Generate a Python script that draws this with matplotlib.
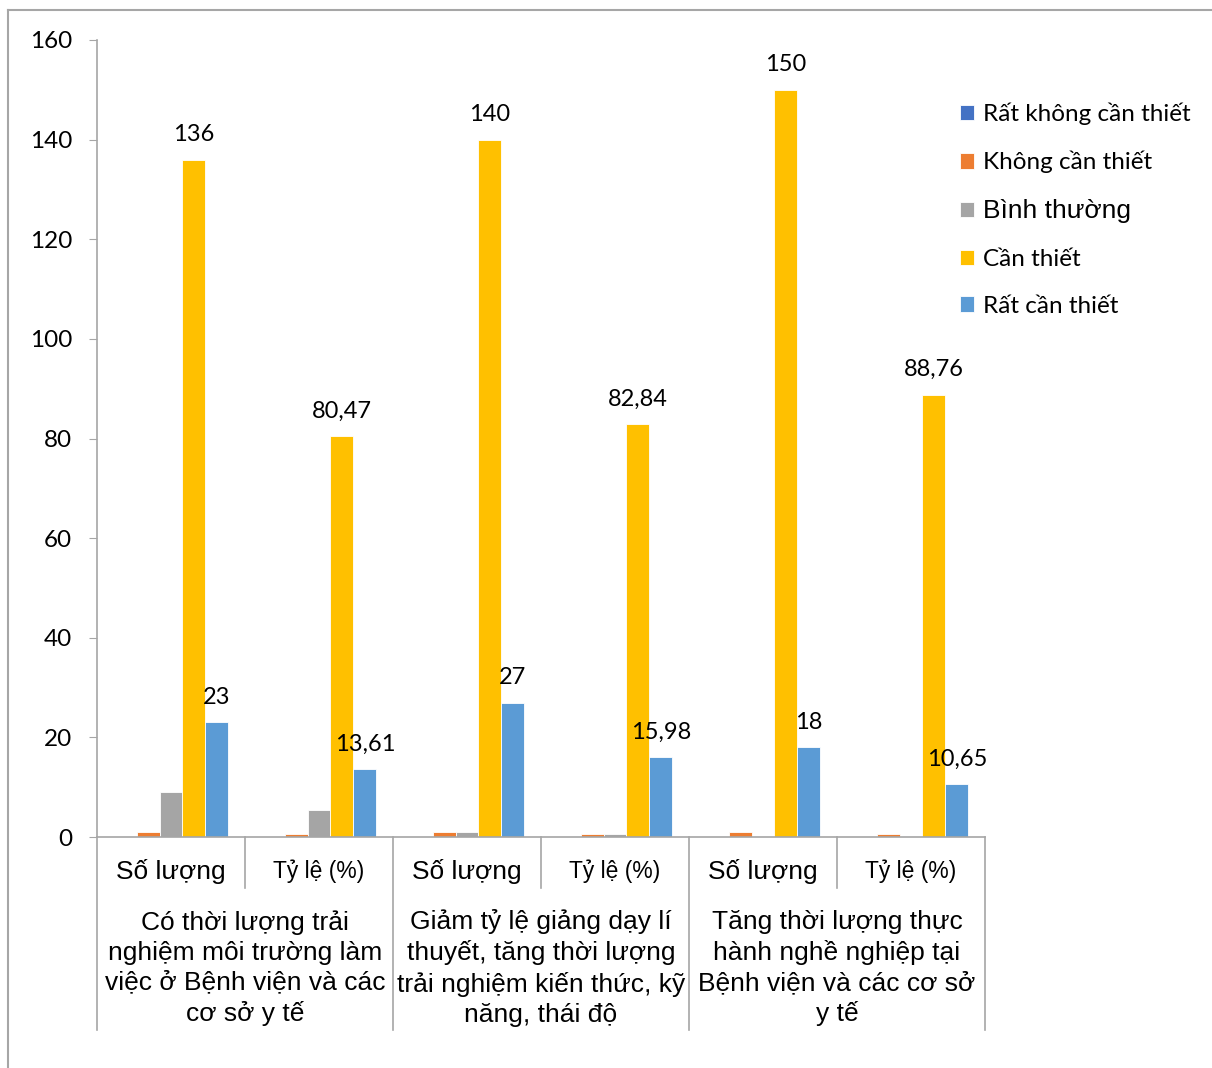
import matplotlib
matplotlib.use('Agg')
import matplotlib.pyplot as plt
from matplotlib.lines import Line2D
import numpy as np

# sub categories (x axis level 1) and groups (level 2)
sub_labels = ['Số lượng', 'Tỷ lệ (%)'] * 3
group_labels = [
    'Có thời lượng trải\nnghiệm môi trường làm\nviệc ở Bệnh viện và các\ncơ sở y tế',
    'Giảm tỷ lệ giảng dạy lí\nthuyết, tăng thời lượng\ntrải nghiệm kiến thức, kỹ\nnăng, thái độ',
    'Tăng thời lượng thực\nhành nghề nghiệp tại\nBệnh viện và các cơ sở\ny tế',
]

series_names = ['Rất không cần thiết', 'Không cần thiết', 'Bình thường',
                'Cần thiết', 'Rất cần thiết']
rat_khong = [0, 0, 0, 0, 0, 0]
khong = [1, 0.59, 1, 0.59, 1, 0.59]
binh_thuong = [9, 5.33, 1, 0.59, 0, 0]
can_thiet = [136, 80.47, 140, 82.84, 150, 88.76]
rat_can = [23, 13.61, 27, 15.98, 18, 10.65]
series = [rat_khong, khong, binh_thuong, can_thiet, rat_can]
colors = ['#4472C4', '#ED7D31', '#A5A5A5', '#FFC000', '#5B9BD5']
labelled = [False, False, False, True, True]

W, H = 1212, 1068
fig = plt.figure(figsize=(W / 100, H / 100), dpi=100)
ax = fig.add_axes([97 / W, (H - 837) / H, (985 - 97) / W, (837 - 40) / H])

num_font = 'Lato'
cat_font = 'Liberation Sans'
grid_col = '#A6A6A6'

x = np.arange(len(sub_labels))
bw = 0.155
for j, (name, vals, col) in enumerate(zip(series_names, series, colors)):
    pos = x + (j - 2) * bw
    bars = ax.bar(pos, vals, bw, color=col, label=name, edgecolor='white',
                  linewidth=0.6)
    if labelled[j]:
        for b, v in zip(bars, vals):
            ax.annotate(f'{v:g}'.replace('.', ','),
                        (b.get_x() + b.get_width() / 2, v),
                        xytext=(0, 10.5), textcoords='offset points',
                        ha='center', va='bottom', fontsize=17,
                        family=num_font, color='black')

ax.set_xlim(-0.5, len(sub_labels) - 0.5)
ax.set_ylim(0, 160)
ax.set_yticks(range(0, 161, 20))
ax.tick_params(axis='y', direction='out', length=6, color=grid_col,
               labelsize=17.5, pad=12)
for lab in ax.get_yticklabels():
    lab.set_family(num_font)
ax.set_xticks([])
for s in ['top', 'right']:
    ax.spines[s].set_visible(False)
for s in ['left', 'bottom']:
    ax.spines[s].set_color(grid_col)
    ax.spines[s].set_linewidth(1.2)

# multi-level category axis
def fy(py):
    return (H - py) / H

def ax_y(py):
    return ax.transAxes.inverted().transform(
        fig.transFigure.transform((0, fy(py))))[1]

trans = ax.get_xaxis_transform()
for k in range(len(sub_labels) + 1):
    xb = k - 0.5
    bottom_px = 1030 if k % 2 == 0 else 888
    ax.plot([xb, xb], [0, ax_y(bottom_px)], transform=trans, color=grid_col,
            lw=1.2, clip_on=False)

for xi, lab in zip(x, sub_labels):
    ax.text(xi, ax_y(871), lab, transform=trans, ha='center', va='center',
            fontsize=19 if xi % 2 == 0 else 16.5, family=cat_font)
for g, lab in enumerate(group_labels):
    ax.text(2 * g + 0.5, ax_y(968), lab, transform=trans, ha='center',
            va='center', fontsize=19, family=cat_font, linespacing=1.32)

leg = ax.legend(loc='upper left', bbox_to_anchor=(950 / W, fy(93)),
                bbox_transform=fig.transFigure, frameon=False,
                handlelength=0.6, handleheight=0.6, handletextpad=0.35,
                labelspacing=1.06, fontsize=17.5, borderaxespad=0)
for t in leg.get_texts():
    t.set_family(num_font)
leg.get_texts()[2].set_family(cat_font)
leg.get_texts()[2].set_fontsize(19)

# outer chart frame
fig.add_artist(Line2D([8 / W, 1], [fy(10), fy(10)], color=grid_col, lw=1.5,
                      transform=fig.transFigure))
fig.add_artist(Line2D([8 / W, 8 / W], [fy(10), 0], color=grid_col, lw=1.5,
                      transform=fig.transFigure))

fig.savefig('out.png', dpi=100)
